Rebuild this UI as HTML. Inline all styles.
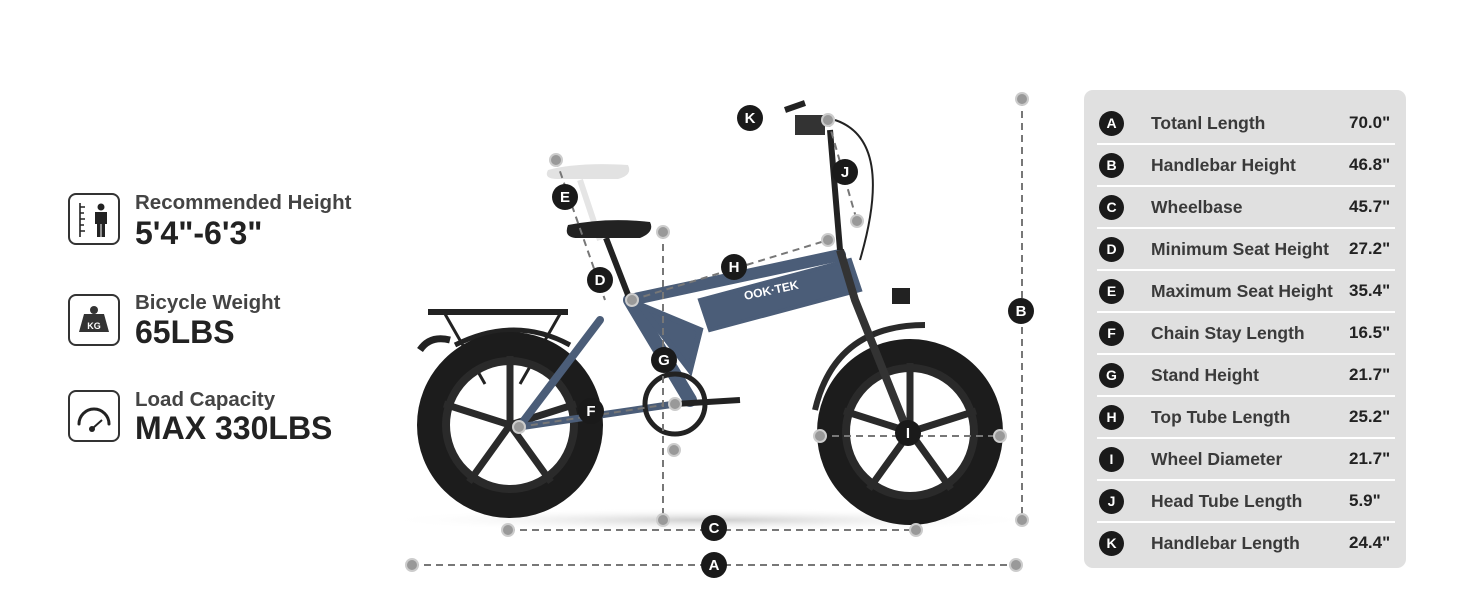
<!DOCTYPE html>
<html><head><meta charset="utf-8"><style>
html,body{margin:0;padding:0;background:#fff;}
body{width:1464px;height:600px;position:relative;overflow:hidden;font-family:"Liberation Sans",sans-serif;}
.ic{position:absolute;left:68px;width:52px;height:52px;border:2px solid #333;border-radius:8px;box-sizing:border-box;}
.t1{position:absolute;left:135px;font-size:20.5px;font-weight:bold;color:#444;}
.t2{position:absolute;left:135px;font-size:32px;font-weight:bold;color:#222;}
.panel{position:absolute;left:1084px;top:90px;width:322px;height:478px;background:#e0e0e0;border-radius:9px;}
.row{position:absolute;left:0;width:322px;height:42px;}
.row .c{position:absolute;left:15px;top:9px;width:25px;height:25px;border-radius:50%;background:#1a1a1a;color:#fff;font-weight:bold;font-size:14px;text-align:center;line-height:25px;}
.row .l{position:absolute;left:67px;top:11px;font-size:17.5px;font-weight:bold;color:#3a3a3a;}
.row .v{position:absolute;left:265px;top:11px;font-size:17px;font-weight:bold;color:#222;}
.sep{position:absolute;left:13px;width:298px;height:2px;background:#fff;}
</style></head><body>
<div class="ic" style="top:193px"><svg width="48" height="48" viewBox="0 0 48 48"><path d="M10 8v34M10 12h5M10 18h4M10 24h5M10 30h4M10 36h5" stroke="#222" stroke-width="1.6" fill="none"/><circle cx="31" cy="12" r="3.5" fill="#222"/><rect x="25" y="17" width="12" height="12" fill="#222"/><rect x="27" y="28" width="3.5" height="14" fill="#222"/><rect x="31.5" y="28" width="3.5" height="14" fill="#222"/></svg></div>
<div class="t1" style="top:191px">Recommended Height</div>
<div class="t2" style="top:215px">5'4"-6'3"</div>
<div class="ic" style="top:294px"><svg width="48" height="48" viewBox="0 0 48 48"><circle cx="24" cy="14" r="4" fill="#333"/><path d="M14 18h20l5 18H9z" fill="#333"/><text x="24" y="33" font-size="9" font-weight="bold" fill="#fff" text-anchor="middle" font-family="Liberation Sans">KG</text></svg></div>
<div class="t1" style="top:291px">Bicycle Weight</div>
<div class="t2" style="top:314px">65LBS</div>
<div class="ic" style="top:390px"><svg width="48" height="48" viewBox="0 0 48 48"><path d="M9 32a15 15 0 1 1 30 0" stroke="#222" stroke-width="3" fill="none" stroke-linecap="round"/><line x1="23" y1="36" x2="32" y2="28" stroke="#222" stroke-width="2"/><circle cx="22" cy="37" r="3" fill="#222"/></svg></div>
<div class="t1" style="top:388px">Load Capacity</div>
<div class="t2" style="top:410px">MAX 330LBS</div>

<svg style="position:absolute;left:0;top:0" width="1464" height="600">
<defs><radialGradient id="sh" cx="50%" cy="50%" r="50%"><stop offset="0" stop-color="#ccc"/><stop offset="1" stop-color="#fff" stop-opacity="0"/></radialGradient></defs>
<ellipse cx="710" cy="520" rx="330" ry="12" fill="url(#sh)"/>
<path d="M428 312h140" stroke="#222" stroke-width="6"/>
<path d="M445 314l40 70 M560 314l-40 70" stroke="#222" stroke-width="3" fill="none"/>
<path d="M420 350q10-15 30-10" stroke="#222" stroke-width="7" fill="none"/>
<path d="M455 345q60-30 115 0" stroke="#222" stroke-width="5" fill="none"/>
<g fill="none">
<circle cx="510" cy="425" r="80" stroke="#1c1c1c" stroke-width="26"/>
<circle cx="510" cy="425" r="64" stroke="#2a2a2a" stroke-width="8"/>
<circle cx="910" cy="432" r="80" stroke="#1c1c1c" stroke-width="26"/>
<circle cx="910" cy="432" r="64" stroke="#2a2a2a" stroke-width="8"/>
</g>
<g stroke="#2a2a2a" stroke-width="7">
<line x1="510" y1="425" x2="510" y2="356"/><line x1="510" y1="425" x2="576" y2="404"/><line x1="510" y1="425" x2="551" y2="482"/><line x1="510" y1="425" x2="469" y2="482"/><line x1="510" y1="425" x2="444" y2="404"/>
<line x1="910" y1="432" x2="910" y2="363"/><line x1="910" y1="432" x2="976" y2="411"/><line x1="910" y1="432" x2="951" y2="489"/><line x1="910" y1="432" x2="869" y2="489"/><line x1="910" y1="432" x2="844" y2="411"/>
</g>
<path d="M815 410q20-85 110-85" stroke="#2a2a2a" stroke-width="6" fill="none"/>
<g stroke="#4b5d78" stroke-linecap="round" fill="none">
<path d="M519 427L600 320" stroke-width="8"/>
<path d="M519 427L675 404" stroke-width="7"/>
<path d="M630 300L690 400" stroke-width="14"/>
<path d="M630 300L840 255" stroke-width="12"/>
<path d="M700 300L850 260L860 290L710 330Z" fill="#4b5d78" stroke-width="4"/>
<path d="M640 305L700 330L690 370Z" fill="#4b5d78" stroke-width="6"/>
</g>
<text x="745" y="300" font-size="12" fill="#fff" font-weight="bold" transform="rotate(-12 745 300)">OOK·TEK</text>
<path d="M840 250L855 300L905 425" stroke="#333" stroke-width="8" fill="none"/>
<path d="M830 130L840 250" stroke="#222" stroke-width="6"/>
<path d="M785 110L805 103" stroke="#222" stroke-width="6"/>
<rect x="795" y="115" width="30" height="20" fill="#333"/>
<path d="M835 120q60 20 25 140" stroke="#222" stroke-width="2" fill="none"/>
<rect x="892" y="288" width="18" height="16" fill="#222"/>
<path d="M548 170q30-8 80-5q5 10-10 14h-60q-15 0-10-9z" fill="#e2e2e2"/>
<path d="M580 180L600 240" stroke="#e5e5e5" stroke-width="6"/>
<path d="M568 225q40-8 82-3q5 10-10 16h-62q-15 0-10-13z" fill="#222"/>
<path d="M606 238L630 300" stroke="#222" stroke-width="6"/>
<circle cx="675" cy="404" r="30" stroke="#222" stroke-width="5" fill="none"/>
<path d="M675 404L740 400" stroke="#222" stroke-width="6"/>
<g stroke="#777" stroke-width="2" stroke-dasharray="7,5" fill="none">
<line x1="412" y1="565" x2="1016" y2="565"/>
<line x1="508" y1="530" x2="916" y2="530"/>
<line x1="1022" y1="99" x2="1022" y2="520"/>
<line x1="663" y1="232" x2="663" y2="520"/>
<line x1="820" y1="436" x2="1000" y2="436"/>
<line x1="828" y1="120" x2="857" y2="221"/>
<line x1="556" y1="160" x2="605" y2="300"/>
<line x1="632" y1="300" x2="828" y2="240"/>
<line x1="519" y1="427" x2="663" y2="405"/>
</g>
<g fill="#999" stroke="#ccc" stroke-width="2">
<circle cx="412" cy="565" r="6"/><circle cx="1016" cy="565" r="6"/>
<circle cx="508" cy="530" r="6"/><circle cx="916" cy="530" r="6"/>
<circle cx="1022" cy="99" r="6"/><circle cx="1022" cy="520" r="6"/>
<circle cx="663" cy="232" r="6"/><circle cx="663" cy="520" r="6"/><circle cx="674" cy="450" r="6"/>
<circle cx="820" cy="436" r="6"/><circle cx="1000" cy="436" r="6"/>
<circle cx="828" cy="120" r="6"/><circle cx="857" cy="221" r="6"/>
<circle cx="556" cy="160" r="6"/><circle cx="632" cy="300" r="6"/><circle cx="828" cy="240" r="6"/>
<circle cx="519" cy="427" r="6"/><circle cx="675" cy="404" r="6"/>
</g>
<g font-family="Liberation Sans" font-weight="bold" font-size="15" text-anchor="middle">
<g fill="#1a1a1a"><circle cx="714" cy="565" r="13"/><circle cx="714" cy="528" r="13"/><circle cx="1021" cy="311" r="13"/><circle cx="908" cy="433" r="13"/><circle cx="845" cy="172" r="13"/><circle cx="750" cy="118" r="13"/><circle cx="565" cy="197" r="13"/><circle cx="600" cy="280" r="13"/><circle cx="734" cy="267" r="13"/><circle cx="591" cy="411" r="13"/><circle cx="664" cy="360" r="13"/></g>
<g fill="#fff"><text x="714" y="570">A</text><text x="714" y="533">C</text><text x="1021" y="316">B</text><text x="908" y="438">I</text><text x="845" y="177">J</text><text x="750" y="123">K</text><text x="565" y="202">E</text><text x="600" y="285">D</text><text x="734" y="272">H</text><text x="591" y="416">F</text><text x="664" y="365">G</text></g>
</g>
</svg>

<div class="panel">
<div class="row" style="top:12px"><div class="c">A</div><div class="l">Totanl Length</div><div class="v">70.0"</div></div>
<div class="sep" style="top:53px"></div>
<div class="row" style="top:54px"><div class="c">B</div><div class="l">Handlebar Height</div><div class="v">46.8"</div></div>
<div class="sep" style="top:95px"></div>
<div class="row" style="top:96px"><div class="c">C</div><div class="l">Wheelbase</div><div class="v">45.7"</div></div>
<div class="sep" style="top:137px"></div>
<div class="row" style="top:138px"><div class="c">D</div><div class="l">Minimum Seat Height</div><div class="v">27.2"</div></div>
<div class="sep" style="top:179px"></div>
<div class="row" style="top:180px"><div class="c">E</div><div class="l">Maximum Seat Height</div><div class="v">35.4"</div></div>
<div class="sep" style="top:221px"></div>
<div class="row" style="top:222px"><div class="c">F</div><div class="l">Chain Stay Length</div><div class="v">16.5"</div></div>
<div class="sep" style="top:263px"></div>
<div class="row" style="top:264px"><div class="c">G</div><div class="l">Stand Height</div><div class="v">21.7"</div></div>
<div class="sep" style="top:305px"></div>
<div class="row" style="top:306px"><div class="c">H</div><div class="l">Top Tube Length</div><div class="v">25.2"</div></div>
<div class="sep" style="top:347px"></div>
<div class="row" style="top:348px"><div class="c">I</div><div class="l">Wheel Diameter</div><div class="v">21.7"</div></div>
<div class="sep" style="top:389px"></div>
<div class="row" style="top:390px"><div class="c">J</div><div class="l">Head Tube Length</div><div class="v">5.9"</div></div>
<div class="sep" style="top:431px"></div>
<div class="row" style="top:432px"><div class="c">K</div><div class="l">Handlebar Length</div><div class="v">24.4"</div></div>
</div>
</body></html>
